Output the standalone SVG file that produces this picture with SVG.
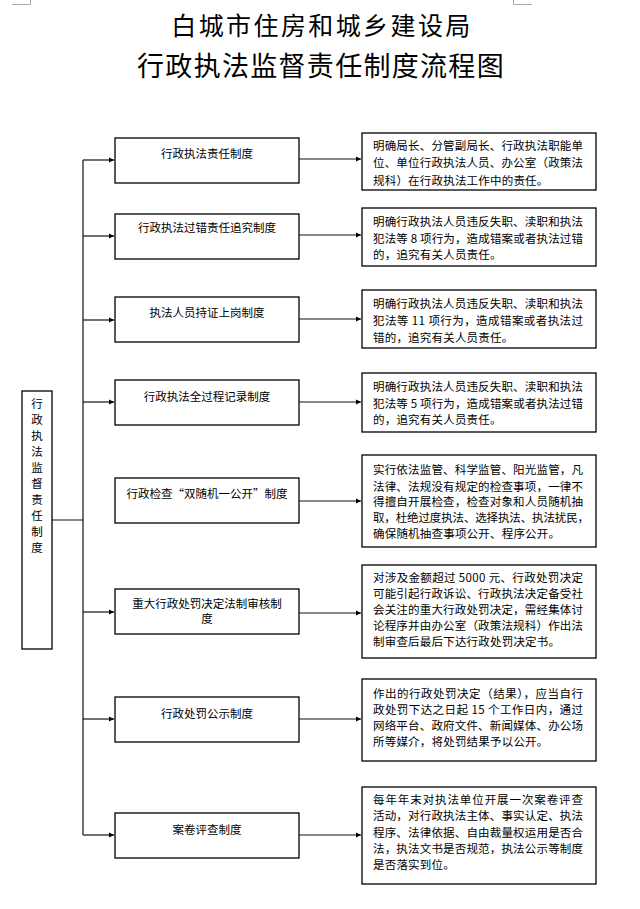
<svg xmlns="http://www.w3.org/2000/svg" width="640" height="909" viewBox="0 0 640 909">
<style>
.bx{fill:#fff;stroke:#000;stroke-width:1.3}
.ln{fill:none;stroke:#111;stroke-width:1.2}
.t{font-family:"Noto Sans CJK SC","Noto Sans",sans-serif;font-size:11.5px;fill:#000}
.c{text-anchor:middle}
.ti{font-family:"Noto Sans CJK SC","Noto Sans",sans-serif;fill:#000;text-anchor:middle}
.crop{stroke:#aaa;stroke-width:1;fill:none}
</style>
<defs>
<marker id="ah" markerWidth="6" markerHeight="6" refX="5" refY="3" orient="auto" markerUnits="userSpaceOnUse">
<path d="M0,0.5 L5,3 L0,5.5 Z" fill="#000"/>
</marker>
</defs>
<rect width="640" height="909" fill="#fff"/>
<path class="crop" d="M12,4.5 H30.5 V0 M513.5,0 V4.5 H532"/>
<g id="title">
<text class="ti" x="322" y="35" font-size="25" letter-spacing="2.4">白城市住房和城乡建设局</text>
<text class="ti" x="321" y="75.5" font-size="27" letter-spacing="1.3">行政执法监督责任制度流程图</text>
</g>
<g id="connectors">
<path class="ln" d="M52,520 H83 M83,160 V835"/>
<path class="ln" d="M83,160 H114" marker-end="url(#ah)"/>
<path class="ln" d="M83,236 H114" marker-end="url(#ah)"/>
<path class="ln" d="M83,320 H114" marker-end="url(#ah)"/>
<path class="ln" d="M83,402 H114" marker-end="url(#ah)"/>
<path class="ln" d="M83,612 H114" marker-end="url(#ah)"/>
<path class="ln" d="M83,719 H114" marker-end="url(#ah)"/>
<path class="ln" d="M83,835 H114" marker-end="url(#ah)"/>
<path class="ln" d="M299,159 H361" marker-end="url(#ah)"/>
<path class="ln" d="M299,235 H361" marker-end="url(#ah)"/>
<path class="ln" d="M299,319 H361" marker-end="url(#ah)"/>
<path class="ln" d="M299,402 H361" marker-end="url(#ah)"/>
<path class="ln" d="M299,501 H361" marker-end="url(#ah)"/>
<path class="ln" d="M299,613 H361" marker-end="url(#ah)"/>
<path class="ln" d="M299,719 H361" marker-end="url(#ah)"/>
<path class="ln" d="M299,835 H361" marker-end="url(#ah)"/>
</g>
<g id="root">
<rect class="bx" x="22" y="391" width="30" height="258"/>
<text class="t c" x="37" y="407.5">行</text>
<text class="t c" x="37" y="423.5">政</text>
<text class="t c" x="37" y="439.5">执</text>
<text class="t c" x="37" y="455.5">法</text>
<text class="t c" x="37" y="471.5">监</text>
<text class="t c" x="37" y="487.5">督</text>
<text class="t c" x="37" y="503.5">责</text>
<text class="t c" x="37" y="519.5">任</text>
<text class="t c" x="37" y="535.5">制</text>
<text class="t c" x="37" y="551.5">度</text>
</g>
<g id="m1"><rect class="bx" x="115" y="138" width="184" height="45"/><text class="t c" x="207" y="157.5">行政执法责任制度</text></g>
<g id="m2"><rect class="bx" x="115" y="214" width="184" height="45"/><text class="t c" x="207" y="231.5">行政执法过错责任追究制度</text></g>
<g id="m3"><rect class="bx" x="115" y="297" width="184" height="45"/><text class="t c" x="207" y="316.5">执法人员持证上岗制度</text></g>
<g id="m4"><rect class="bx" x="115" y="380" width="184" height="45"/><text class="t c" x="207" y="401">行政执法全过程记录制度</text></g>
<g id="m5"><rect class="bx" x="115" y="478" width="184" height="45"/><text class="t c" x="207" y="497.5">行政检查“双随机一公开”制度</text></g>
<g id="m6"><rect class="bx" x="115" y="589" width="184" height="45"/><text class="t c" x="207" y="607.5">重大行政处罚决定法制审核制</text><text class="t c" x="207" y="622.5">度</text></g>
<g id="m7"><rect class="bx" x="115" y="697" width="184" height="45"/><text class="t c" x="207" y="717.5">行政处罚公示制度</text></g>
<g id="m8"><rect class="bx" x="115" y="813" width="184" height="45"/><text class="t c" x="207" y="833.5">案卷评查制度</text></g>
<g id="r1"><rect class="bx" x="362" y="133" width="234" height="57"/>
<text class="t" x="373" y="149.5" textLength="210" lengthAdjust="spacing">明确局长、分管副局长、行政执法职能单</text>
<text class="t" x="373" y="167" textLength="210" lengthAdjust="spacing">位、单位行政执法人员、办公室（政策法</text>
<text class="t" x="373" y="184.5" letter-spacing="0.2">规科）在行政执法工作中的责任。</text></g>
<g id="r2"><rect class="bx" x="362" y="208" width="234" height="58"/>
<text class="t" x="373" y="226" textLength="210" lengthAdjust="spacing">明确行政执法人员违反失职、渎职和执法</text>
<text class="t" x="373" y="242.5" textLength="210" lengthAdjust="spacing">犯法等 8 项行为，造成错案或者执法过错</text>
<text class="t" x="373" y="259" letter-spacing="0.2">的，追究有关人员责任。</text></g>
<g id="r3"><rect class="bx" x="362" y="290" width="234" height="58"/>
<text class="t" x="373" y="308" textLength="210" lengthAdjust="spacing">明确行政执法人员违反失职、渎职和执法</text>
<text class="t" x="373" y="325" textLength="210" lengthAdjust="spacing">犯法等 11 项行为，造成错案或者执法过</text>
<text class="t" x="373" y="341.5" letter-spacing="0.2">错的，追究有关人员责任。</text></g>
<g id="r4"><rect class="bx" x="362" y="373" width="234" height="59"/>
<text class="t" x="373" y="391" textLength="210" lengthAdjust="spacing">明确行政执法人员违反失职、渎职和执法</text>
<text class="t" x="373" y="407.5" textLength="210" lengthAdjust="spacing">犯法等 5 项行为，造成错案或者执法过错</text>
<text class="t" x="373" y="423.5" letter-spacing="0.2">的，追究有关人员责任。</text></g>
<g id="r5"><rect class="bx" x="362" y="455" width="234" height="92"/>
<text class="t" x="373" y="474" textLength="210" lengthAdjust="spacing">实行依法监管、科学监管、阳光监管，凡</text>
<text class="t" x="373" y="490.5" textLength="210" lengthAdjust="spacing">法律、法规没有规定的检查事项，一律不</text>
<text class="t" x="373" y="506" textLength="210" lengthAdjust="spacing">得擅自开展检查，检查对象和人员随机抽</text>
<text class="t" x="373" y="521.5" textLength="216" lengthAdjust="spacing">取，杜绝过度执法、选择执法、执法扰民，</text>
<text class="t" x="373" y="537.5" letter-spacing="0.2">确保随机抽查事项公开、程序公开。</text></g>
<g id="r6"><rect class="bx" x="362" y="565" width="234" height="93"/>
<text class="t" x="373" y="581.5" textLength="210" lengthAdjust="spacing">对涉及金额超过 5000 元、行政处罚决定</text>
<text class="t" x="373" y="597.5" textLength="210" lengthAdjust="spacing">可能引起行政诉讼、行政执法决定备受社</text>
<text class="t" x="373" y="614" textLength="210" lengthAdjust="spacing">会关注的重大行政处罚决定，需经集体讨</text>
<text class="t" x="373" y="630" textLength="210" lengthAdjust="spacing">论程序并由办公室（政策法规科）作出法</text>
<text class="t" x="373" y="646" letter-spacing="0.2">制审查后最后下达行政处罚决定书。</text></g>
<g id="r7"><rect class="bx" x="362" y="679" width="234" height="82"/>
<text class="t" x="373" y="697.5" textLength="210" lengthAdjust="spacing">作出的行政处罚决定（结果），应当自行</text>
<text class="t" x="373" y="714" textLength="210" lengthAdjust="spacing">政处罚下达之日起 15 个工作日内，通过</text>
<text class="t" x="373" y="730" textLength="210" lengthAdjust="spacing">网络平台、政府文件、新闻媒体、办公场</text>
<text class="t" x="373" y="746" letter-spacing="0.2">所等媒介，将处罚结果予以公开。</text></g>
<g id="r8"><rect class="bx" x="362" y="787" width="234" height="97"/>
<text class="t" x="373" y="804" textLength="210" lengthAdjust="spacing">每年年末对执法单位开展一次案卷评查</text>
<text class="t" x="373" y="820" textLength="210" lengthAdjust="spacing">活动，对行政执法主体、事实认定、执法</text>
<text class="t" x="373" y="836.5" textLength="210" lengthAdjust="spacing">程序、法律依据、自由裁量权运用是否合</text>
<text class="t" x="373" y="852.5" textLength="210" lengthAdjust="spacing">法，执法文书是否规范，执法公示等制度</text>
<text class="t" x="373" y="868.5" letter-spacing="0.2">是否落实到位。</text></g>
</svg>
